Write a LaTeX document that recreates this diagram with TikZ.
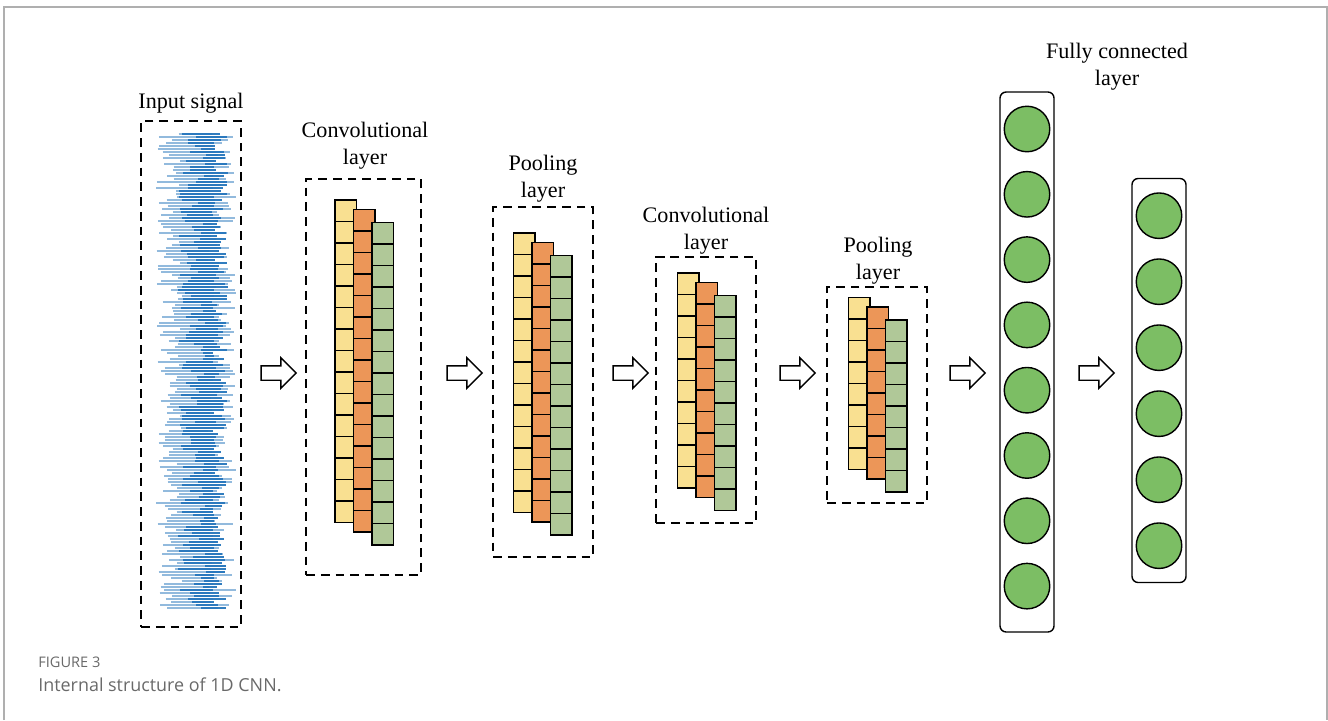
\documentclass[tikz,border=0pt]{standalone}
\usepackage{fontspec}
\setmainfont{Liberation Serif}
\newfontfamily\capfont{Open Sans}
\usetikzlibrary{shapes.arrows, fit}

\definecolor{cellyellow}{RGB}{249,224,145}
\definecolor{cellorange}{RGB}{236,150,88}
\definecolor{cellgreen}{RGB}{176,200,152}
\definecolor{neurongreen}{RGB}{124,190,100}
\definecolor{sigblue}{RGB}{38,118,188}
\definecolor{framegray}{RGB}{175,175,175}
\definecolor{capgray}{RGB}{105,105,105}

% one column of feature cells: x left, y top, number of cells, colour
\newcommand{\featcol}[4]{%
  \foreach \j in {1,...,#3}
    \draw[cell, fill=#4] (#1,{#2+(\j-1)*21.5}) rectangle ++(21.5,21.5);
}
% three channels, shifted right and down
\newcommand{\featstack}[3]{%
  \featcol{#1}{#2}{#3}{cellyellow}
  \featcol{#1+18.5}{#2+9.5}{#3}{cellorange}
  \featcol{#1+37}{#2+22.5}{#3}{cellgreen}
}

\begin{document}
\begin{tikzpicture}[x=0.02cm, y=-0.02cm,
    lbl/.style={font=\fontsize{12.6}{15.3}\selectfont, align=center, inner sep=0pt},
    dashbox/.style={draw, line width=0.85pt, dash pattern=on 5pt off 3.4pt, inner sep=0pt},
    cell/.style={draw, line width=0.8pt},
    fcbox/.style={draw, line width=0.8pt, rounded corners=3.5pt, inner sep=0pt},
    neuron/.style={circle, draw, line width=0.8pt, fill=neurongreen, minimum size=0.91cm, inner sep=0pt},
    fatarrow/.style={single arrow, draw, line width=0.8pt, minimum height=0.7cm,
      minimum width=0.58cm, inner sep=0.13cm, single arrow head extend=0.16cm},
    sigline/.style={sigblue, line width=1.5pt}]
  \useasboundingbox (0,0) rectangle (1328,720);
  % outer frame
  \draw[framegray, line width=0.85pt] (4,720) -- (4,7) -- (1327,7) -- (1327,720);

  % input signal
  \node[dashbox, fit={(141,121) (241,627)}] (in) {};
  \node[lbl] (inlbl) at (191,103) {Input signal};
  \begin{scope}
    \clip (150,130) rectangle (238,612);
    \pgfmathsetseed{7}
    \foreach \k in {0,...,158} {
      \pgfmathsetmacro\ya{134+3*\k}
      \pgfmathsetmacro\xa{156+26*rnd}
      \pgfmathsetmacro\xb{208+28*rnd}
      \draw[sigline, opacity=0.5] (\xa,\ya) -- (\xb,\ya);
      \pgfmathsetmacro\xc{178+28*rnd}
      \pgfmathsetmacro\xd{212+16*rnd}
      \draw[sigline, opacity=0.95] (\xc,\ya) -- (\xd,\ya);
    }
  \end{scope}

  % first convolutional layer
  \node[dashbox, fit={(306,179) (421,575)}] (conv1) {};
  \node[lbl] (conv1lbl) at (365,146) {Convolutional\\layer};
  \featstack{335}{200}{15}

  % first pooling layer
  \node[dashbox, fit={(493,207) (593,557)}] (pool1) {};
  \node[lbl] (pool1lbl) at (543,178.5) {Pooling\\layer};
  \featstack{513.5}{233}{13}

  % second convolutional layer
  \node[dashbox, fit={(656,257) (756,523)}] (conv2) {};
  \node[lbl] (conv2lbl) at (706,231) {Convolutional\\layer};
  \featstack{677.5}{273}{10}

  % second pooling layer
  \node[dashbox, fit={(827,287) (927,503)}] (pool2) {};
  \node[lbl] (pool2lbl) at (878,261) {Pooling\\layer};
  \featstack{848.5}{297.5}{8}

  % fully connected layers
  \node[lbl] (fclbl) at (1117,66.5) {Fully connected\\layer};
  \node[fcbox, fit={(1000,92) (1054,632)}] (fc1) {};
  \foreach \i in {0,...,7}
    \node[neuron] (fa\i) at (1027,{129+65.3*\i}) {};
  \node[fcbox, fit={(1132,178.5) (1186,582.5)}] (fc2) {};
  \foreach \i in {0,...,5}
    \node[neuron] (fb\i) at (1159,{215.7+66*\i}) {};

  % block arrows between stages
  \node[fatarrow] (ar1) at (275,373) {};
  \node[fatarrow] (ar2) at (461,373) {};
  \node[fatarrow] (ar3) at (627,373) {};
  \node[fatarrow] (ar4) at (794,373) {};
  \node[fatarrow] (ar5) at (964,373) {};
  \node[fatarrow] (ar6) at (1093,373) {};

  % caption
  \node[anchor=west, inner sep=0pt, text=capgray, font=\capfont\fontsize{8.3}{10}\selectfont] (figno) at (38,662) {FIGURE 3};
  \node[anchor=west, inner sep=0pt, text=capgray, font=\capfont\fontsize{10.2}{12}\selectfont] (figcap) at (38,685) {Internal structure of 1D CNN.};
\end{tikzpicture}
\end{document}
